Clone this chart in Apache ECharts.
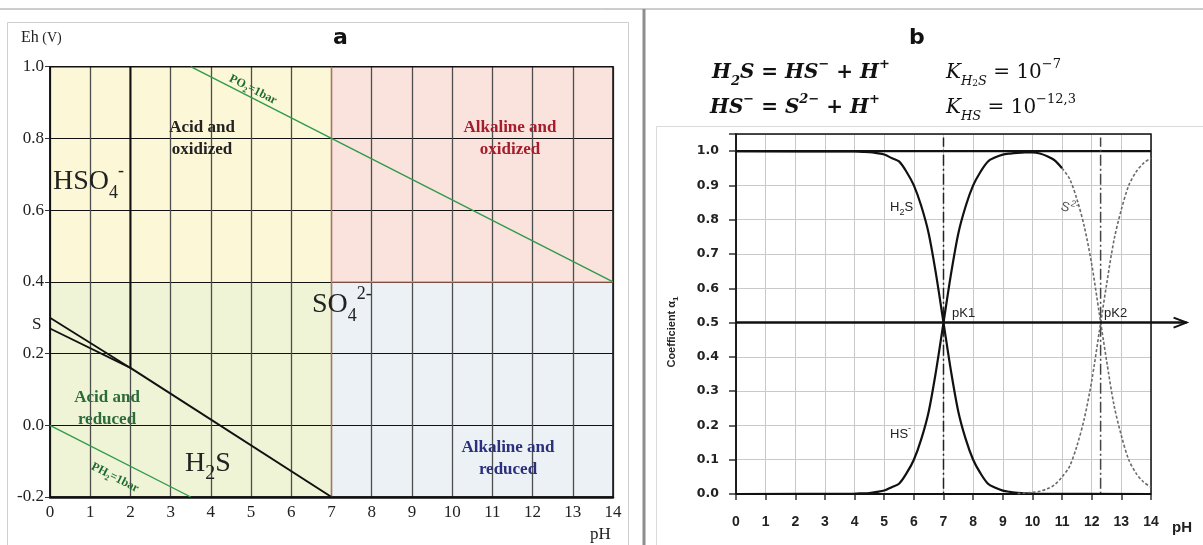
<!DOCTYPE html>
<html>
<head>
<meta charset="utf-8">
<script src="https://cdn.jsdelivr.net/npm/echarts@6/dist/echarts.min.js"></script>
<style>
  html, body { margin: 0; padding: 0; background: #fff; }
  #chart { width: 1203px; height: 545px; }
</style>
</head>
<body>
<div id="chart"></div>
<script>
// ---- panel a : Eh-pH diagram (pairs are [pH, Eh]) ----
var po2Line = [[3.5, 1.0], [14, 0.4]];
var ph2Line = [[0, 0.0], [3.5, -0.2]];
var hso4Line = [[2, 1.0], [2, 0.16]];
var sUpperLine = [[0, 0.30], [2, 0.16]];
var sLowerLine = [[0, 0.27], [2, 0.16]];
var h2sLine = [[2, 0.16], [7, -0.2]];
var neutralLine = [[7, 1.0], [7, -0.2]];
var redoxLine = [[7, 0.4], [14, 0.4]];

var zonePH = [[0, 7], [7, 14], [0, 7], [7, 14]];
var zoneEh = [[0.4, 1.0], [0.4, 1.0], [-0.2, 0.4], [-0.2, 0.4]];
var zoneColors = ['#fbf7d7', '#fbe3dd', '#eff4d6', '#ebf1f4'];

// ---- panel b : distribution coefficients ----
var h2sPH  = [0, 4, 4.25, 4.5, 4.75, 5, 5.25, 5.5, 5.75, 6, 6.25, 6.5, 6.75, 7, 7.25, 7.5, 7.75, 8, 8.25, 8.5, 8.75, 9, 9.25, 9.5, 10, 14];
var h2sVal = [1, 0.999, 0.998, 0.997, 0.994, 0.99, 0.98, 0.97, 0.94, 0.9, 0.84, 0.76, 0.64, 0.5, 0.36, 0.24, 0.16, 0.1, 0.06, 0.03, 0.018, 0.01, 0.006, 0.003, 0.001, 0];

var hsPH  = [0, 4, 4.25, 4.5, 4.75, 5, 5.25, 5.5, 5.75, 6, 6.25, 6.5, 6.75, 7, 7.25, 7.5, 7.75, 8, 8.25, 8.5, 8.75, 9, 9.25, 9.5, 9.75, 10, 10.25, 10.5, 10.75, 11];
var hsVal = [0, 0.001, 0.002, 0.003, 0.006, 0.01, 0.02, 0.03, 0.06, 0.1, 0.16, 0.24, 0.36, 0.5, 0.64, 0.76, 0.84, 0.9, 0.94, 0.97, 0.982, 0.99, 0.993, 0.995, 0.996, 0.996, 0.993, 0.985, 0.973, 0.95];

var hsTailPH  = [11, 11.25, 11.5, 11.75, 12, 12.25, 12.5, 12.75, 13, 13.25, 13.5, 13.75, 14];
var hsTailVal = [0.95, 0.92, 0.86, 0.78, 0.67, 0.53, 0.39, 0.26, 0.17, 0.1, 0.06, 0.035, 0.02];

var s2PH  = [9.5, 10, 10.25, 10.5, 10.75, 11, 11.25, 11.5, 11.75, 12, 12.25, 12.5, 12.75, 13, 13.25, 13.5, 13.75, 14];
var s2Val = [0.001, 0.005, 0.008, 0.015, 0.027, 0.05, 0.08, 0.14, 0.22, 0.33, 0.47, 0.61, 0.74, 0.83, 0.9, 0.94, 0.965, 0.98];

var pKValues = [7, 12.3];
var topLine = [[0, 1], [14, 1]];
var baseLine = [[0, 0], [14, 0]];
var halfLine = [[0, 0.5], [15.2, 0.5]];

function pairs(xs, ys) {
  return xs.map(function (x, i) { return [x, ys[i]]; });
}

var chart = echarts.init(document.getElementById('chart'));

var serif = 'Liberation Serif';
var sans = 'Liberation Sans';

function seg(name, data, color, width, extra) {
  var s = {
    name: name, type: 'line', xAxisIndex: 0, yAxisIndex: 0,
    data: data, symbol: 'none', silent: true,
    lineStyle: { color: color, width: width }
  };
  for (var k in extra) s[k] = extra[k];
  return s;
}
function segB(name, data, color, width, type, extra) {
  var s = seg(name, data, color, width, extra);
  s.xAxisIndex = 1; s.yAxisIndex = 1;
  if (type) s.lineStyle.type = type;
  return s;
}

var zoneData = zonePH.map(function (p, i) {
  return [
    { xAxis: p[0], yAxis: zoneEh[i][0], itemStyle: { color: zoneColors[i] } },
    { xAxis: p[1], yAxis: zoneEh[i][1] }
  ];
});

// rich text helpers
function rs(family, size, lh, va, weight, style) {
  return { fontFamily: family, fontSize: size, lineHeight: lh, verticalAlign: va,
           fontWeight: weight || 'normal', fontStyle: style || 'normal' };
}
function label(x, y, text, opt) {
  var st = {
    text: text, fill: opt.fill || '#222',
    fontFamily: opt.family || serif, fontSize: opt.size || 16,
    fontWeight: opt.weight || 'normal', fontStyle: opt.style || 'normal',
    align: opt.align || 'left', verticalAlign: 'middle'
  };
  if (opt.lineHeight) st.lineHeight = opt.lineHeight;
  if (opt.rich) st.rich = opt.rich;
  return { type: 'text', x: x, y: y, rotation: opt.rotation || 0, silent: true, z: 50, style: st };
}

var eqMain = rs('DejaVu Serif', 20, 30, 'middle', 'bold', 'italic');
var eqSub = rs('DejaVu Serif', 13, 14, 'bottom', 'bold', 'italic');
var eqSup = rs('DejaVu Serif', 13, 14, 'top', 'bold', 'italic');
var kMain = rs('DejaVu Serif', 20, 30, 'middle', 'normal', 'italic');
var kNum = rs('DejaVu Serif', 20, 30, 'middle', 'normal', 'normal');
var kSub = rs('DejaVu Serif', 13, 14, 'bottom', 'normal', 'italic');
var kSub2 = rs('DejaVu Serif', 9, 10, 'bottom', 'normal', 'normal');
var kSup = rs('DejaVu Serif', 13, 14, 'top', 'normal', 'normal');
var eqRich = { m: eqMain, b: eqSub, t: eqSup, k: kMain, n: kNum, kb: kSub, kbb: kSub2, kt: kSup };

var bigMain = rs(serif, 28, 40, 'middle');
var bigSub = rs(serif, 18, 18, 'bottom');
var bigSup = rs(serif, 18, 18, 'top');
var h2sSub = rs(serif, 20, 20, 'bottom');

var smMain = rs(sans, 13, 20, 'middle');
var smSub = rs(sans, 9, 9, 'bottom');
var smSup = rs(sans, 9, 9, 'top');

var tagRich = function (c) {
  return {
    m: { fontFamily: serif, fontSize: 12, fontWeight: 'bold', lineHeight: 16, verticalAlign: 'middle', fill: c },
    b: { fontFamily: serif, fontSize: 8, fontWeight: 'bold', lineHeight: 8, verticalAlign: 'bottom', fill: c }
  };
};

var curveSmooth = 0.3;

chart.setOption({
  animation: false,
  backgroundColor: '#ffffff',
  grid: [
    { left: 50, right: 590, top: 66.7, bottom: 48, show: true, borderColor: '#111', borderWidth: 1.5, z: 3 },
    { left: 736, right: 52, top: 134, bottom: 51, show: true, borderColor: '#111', borderWidth: 1.5, z: 3 }
  ],
  xAxis: [
    {
      gridIndex: 0, type: 'value', min: 0, max: 14, interval: 1,
      axisLine: { show: true, onZero: false, lineStyle: { color: '#111', width: 2.5 } },
      axisTick: { show: false },
      axisLabel: { margin: 7, fontFamily: serif, fontSize: 17, color: '#222' },
      splitLine: { show: true, lineStyle: { color: '#4d4d4d', width: 1.3 } }
    },
    {
      gridIndex: 1, type: 'value', min: 0, max: 14, interval: 1, offset: 16,
      axisLine: { show: false },
      axisTick: { show: true, length: 6, lineStyle: { color: '#333', width: 1.5 } },
      axisLabel: { margin: 5, fontFamily: sans, fontWeight: 'bold', fontSize: 14, color: '#222' },
      splitLine: { show: true, lineStyle: { color: '#c9c9c9', width: 1 } }
    }
  ],
  yAxis: [
    {
      gridIndex: 0, type: 'value', min: -0.2, max: 1.0, interval: 0.2,
      axisLine: { show: true, onZero: false, lineStyle: { color: '#111', width: 1.5 } },
      axisTick: { show: true, length: 5, lineStyle: { color: '#333' } },
      axisLabel: {
        margin: 6, padding: [0, 0, 7, 0], fontFamily: serif, fontSize: 17, color: '#222',
        formatter: function (v) { return v.toFixed(1); }
      },
      splitLine: { show: true, lineStyle: { color: '#111', width: 1.2 } }
    },
    {
      gridIndex: 1, type: 'value', min: 0, max: 1.05, interval: 0.1,
      axisLine: { show: true, onZero: false, lineStyle: { color: '#111', width: 1.5 } },
      axisTick: { show: true, length: 7, lineStyle: { color: '#333', width: 1.5 } },
      axisLabel: {
        margin: 17, fontFamily: 'DejaVu Sans', fontWeight: 'bold', fontSize: 12.5, color: '#222',
        formatter: function (v) { return v > 1.001 ? '' : v.toFixed(1); }
      },
      splitLine: { show: true, lineStyle: { color: '#c9c9c9', width: 1 } }
    }
  ],
  series: [
    // panel a
    seg('zones', [], '#000', 0, {
      z: -1,
      markArea: { silent: true, z: -1, data: zoneData }
    }),
    seg('pH 7', neutralLine, '#e0603c', 1.2),
    seg('Eh 0.4', redoxLine, '#e88a70', 1.2),
    seg('PO2=1bar', po2Line, '#2f9a4a', 1.4),
    seg('PH2=1bar', ph2Line, '#2f9a4a', 1.4),
    seg('HSO4 boundary', hso4Line, '#111', 2),
    seg('S upper', sUpperLine, '#111', 1.8),
    seg('S lower', sLowerLine, '#111', 1.8),
    seg('H2S boundary', h2sLine, '#111', 2),

    // panel b
    segB('1.0', topLine, '#111', 2.2),
    segB('0.0', baseLine, '#111', 2.2),
    segB('pK1', [[pKValues[0], -0.04], [pKValues[0], 1.04]], '#222', 1.5, [11, 3, 2, 3]),
    segB('pK2', [[pKValues[1], -0.04], [pKValues[1], 1.04]], '#444', 1.5, [11, 3, 2, 3]),
    segB('H2S', pairs(h2sPH, h2sVal), '#111', 2.2, null, { smooth: curveSmooth }),
    segB('HS-', pairs(hsPH, hsVal), '#111', 2.2, null, { smooth: curveSmooth }),
    segB('HS- tail', pairs(hsTailPH, hsTailVal), '#6a6a6a', 1.6, [3, 2], { smooth: curveSmooth }),
    segB('S2-', pairs(s2PH, s2Val), '#6a6a6a', 1.6, [3, 2], { smooth: curveSmooth })
  ]
});

// the 0.5 line runs past the frame and ends in an open arrow
var a0 = chart.convertToPixel({ xAxisIndex: 1, yAxisIndex: 1 }, halfLine[0]);
var a1 = chart.convertToPixel({ xAxisIndex: 1, yAxisIndex: 1 }, halfLine[1]);

chart.setOption({
  graphic: [
    // frames of the composite figure
    { type: 'line', silent: true, shape: { x1: 0, y1: 9, x2: 1203, y2: 9 }, style: { stroke: '#9a9a9a', lineWidth: 1 } },
    { type: 'rect', silent: true, shape: { x: 642.5, y: 9, width: 3, height: 540 }, style: { fill: '#8e8e8e' } },
    { type: 'rect', silent: true, shape: { x: 7.5, y: 22.5, width: 621, height: 540 }, style: { fill: 'none', stroke: '#cfcfcf', lineWidth: 1 } },
    { type: 'rect', silent: true, shape: { x: 656.5, y: 126.5, width: 560, height: 440 }, style: { fill: 'none', stroke: '#dadada', lineWidth: 1 } },

    // 0.5 arrow
    { type: 'line', silent: true, z: 40, shape: { x1: a0[0], y1: a0[1], x2: a1[0], y2: a1[1] }, style: { stroke: '#111', lineWidth: 2.4 } },
    { type: 'polyline', silent: true, z: 40, shape: { points: [[a1[0] - 13, a1[1] - 5], [a1[0], a1[1]], [a1[0] - 13, a1[1] + 5]] }, style: { stroke: '#111', lineWidth: 2, fill: 'none' } },

    // panel a texts
    label(333, 38, 'a', { family: 'DejaVu Sans', size: 22, weight: 'bold', fill: '#111' }),
    label(21, 38, '{e|Eh}{v| (V)}', { rich: { e: rs(serif, 16, 20, 'middle'), v: rs(serif, 14, 20, 'middle') } }),
    label(32, 325, 'S', { size: 17 }),
    label(590, 535, 'pH', { size: 17 }),
    label(202, 139, 'Acid and\noxidized', { size: 17, weight: 'bold', lineHeight: 22, align: 'center', fill: '#232323' }),
    label(510, 139, 'Alkaline and\noxidized', { size: 17, weight: 'bold', lineHeight: 22, align: 'center', fill: '#a51d2d' }),
    label(107, 409, 'Acid and\nreduced', { size: 17, weight: 'bold', lineHeight: 22, align: 'center', fill: '#2c6b3c' }),
    label(508, 459, 'Alkaline and\nreduced', { size: 17, weight: 'bold', lineHeight: 22, align: 'center', fill: '#2b2f7c' }),
    label(53, 182, '{m|HSO}{b|4}{t|-}', { rich: { m: bigMain, b: bigSub, t: bigSup } }),
    label(312, 305, '{m|SO}{b|4}{t|2-}', { rich: { m: bigMain, b: bigSub, t: bigSup } }),
    label(185, 464, '{m|H}{b|2}{m|S}', { rich: { m: bigMain, b: h2sSub } }),
    label(230, 78, '{m|PO}{b|2}{m|=1bar}', { rotation: -0.47, rich: tagRich('#1f6b30') }),
    label(92, 466, '{m|PH}{b|2}{m|=1bar}', { rotation: -0.47, rich: tagRich('#1f6b30') }),

    // panel b texts
    label(909, 38, 'b', { family: 'DejaVu Sans', size: 22, weight: 'bold', fill: '#111' }),
    label(712, 73, '{m|H}{b|2}{m|S = HS}{t|\u2212}{m| + H}{t|+}', { rich: eqRich, fill: '#111' }),
    label(946, 73, '{k|K}{kb|H}{kbb|2}{kb|S}{n| = 10}{kt|\u22127}', { rich: eqRich, fill: '#111' }),
    label(710, 108, '{m|HS}{t|\u2212}{m| = S}{t|2\u2212}{m| + H}{t|+}', { rich: eqRich, fill: '#111' }),
    label(946, 108, '{k|K}{kb|HS}{n| = 10}{kt|\u221212,3}', { rich: eqRich, fill: '#111' }),
    label(672, 332, '{m|Coefficient \u03b1}{b|1}', {
      rotation: Math.PI / 2, align: 'center',
      rich: { m: rs(sans, 11, 16, 'middle', 'bold'), b: rs(sans, 8, 8, 'bottom', 'bold') }
    }),
    label(1172, 528, 'pH', { family: sans, size: 15, weight: 'bold', fill: '#222' }),
    label(890, 207, '{m|H}{b|2}{m|S}', { rich: { m: smMain, b: smSub }, fill: '#222' }),
    label(952, 313, 'pK1', { family: sans, size: 13, fill: '#222' }),
    label(1104, 313, 'pK2', { family: sans, size: 13, fill: '#222' }),
    label(890, 434, '{m|HS}{t|-}', { rich: { m: smMain, t: smSup }, fill: '#222' }),
    label(1061, 206, '{m|S}{t|2-}', { rotation: -0.3, rich: { m: smMain, t: smSup }, fill: '#555' })
  ]
});
</script>
</body>
</html>
